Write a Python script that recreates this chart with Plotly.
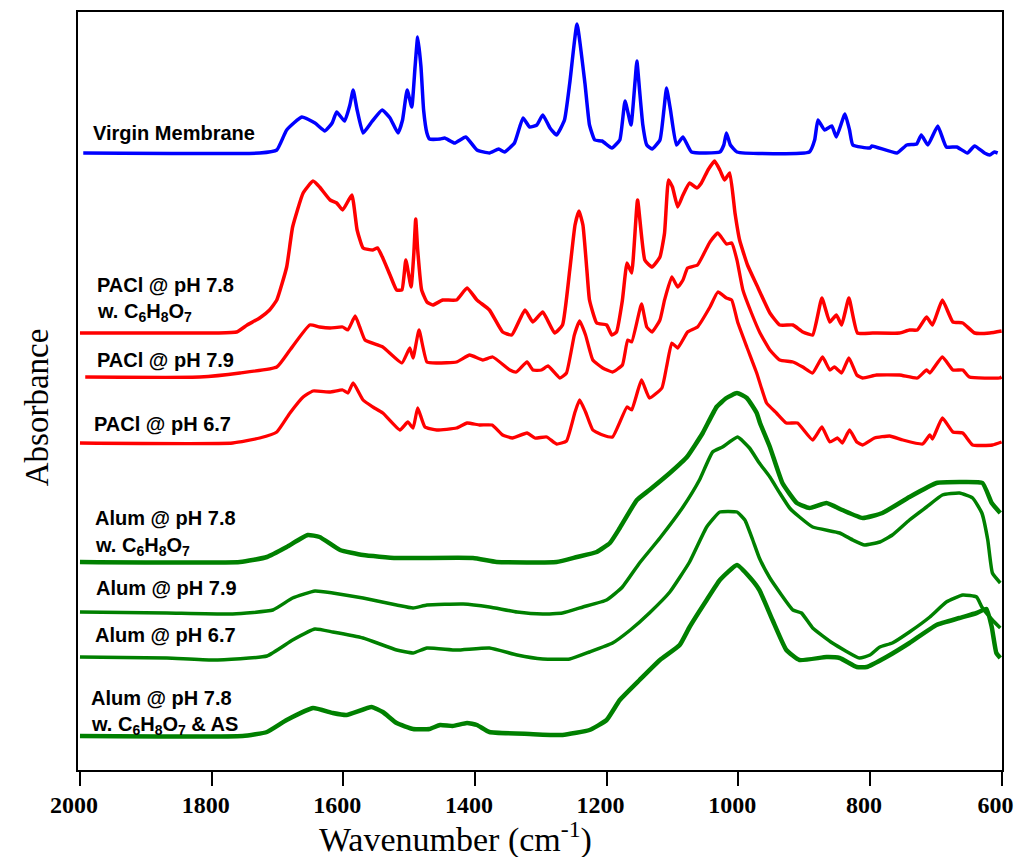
import plotly.graph_objects as go

# ---------------- data (wavenumber in cm^-1, absorbance in offset units) ----------------
virgin_w = [1995, 1727, 1701, 1686, 1663, 1643, 1628, 1617, 1610, 1598, 1590, 1585, 1579, 1570,
            1557, 1541, 1529, 1517, 1510, 1503, 1496, 1491, 1487, 1482, 1478, 1473, 1469, 1453,
            1446, 1431, 1414, 1397, 1378, 1364, 1355, 1340, 1327, 1317, 1306, 1297, 1286, 1276,
            1264, 1256, 1245, 1233, 1226, 1218, 1207, 1192, 1180, 1172, 1163, 1157, 1154, 1150,
            1145, 1139, 1131, 1119, 1113, 1109, 1103, 1094, 1084, 1071, 1028, 1022, 1018, 1012,
            1002, 892, 884, 879, 869, 858, 851, 838, 831, 826, 800, 797, 759, 744, 729, 722, 712,
            697, 684, 668, 652, 641, 626, 618, 611, 606]
virgin_a = [6.17, 6.17, 6.20, 6.40, 6.53, 6.47, 6.39, 6.47, 6.58, 6.49, 6.65, 6.80, 6.60, 6.37,
            6.48, 6.60, 6.52, 6.37, 6.50, 6.80, 6.63, 7.03, 7.33, 7.03, 6.60, 6.37, 6.31, 6.31,
            6.32, 6.27, 6.33, 6.20, 6.17, 6.21, 6.18, 6.27, 6.52, 6.43, 6.45, 6.55, 6.42, 6.35,
            6.50, 6.87, 7.46, 6.87, 6.45, 6.30, 6.29, 6.22, 6.30, 6.69, 6.45, 6.87, 7.09, 6.80,
            6.45, 6.25, 6.21, 6.30, 6.60, 6.82, 6.60, 6.25, 6.33, 6.18, 6.18, 6.25, 6.37, 6.25,
            6.18, 6.18, 6.30, 6.50, 6.40, 6.44, 6.33, 6.56, 6.40, 6.25, 6.22, 6.24, 6.17, 6.25,
            6.26, 6.35, 6.25, 6.44, 6.23, 6.23, 6.17, 6.24, 6.17, 6.15, 6.18, 6.17]

pacl78c_w = [2000, 1792, 1762, 1746, 1727, 1712, 1701, 1686, 1677, 1661, 1646, 1636, 1620, 1610,
             1601, 1587, 1579, 1570, 1555, 1548, 1540, 1529, 1519, 1511, 1505, 1497, 1493, 1490,
             1487, 1481, 1473, 1464, 1449, 1428, 1412, 1397, 1378, 1358, 1344, 1324, 1312, 1297,
             1279, 1267, 1256, 1248, 1242, 1236, 1230, 1226, 1215, 1200, 1192, 1185, 1176, 1169,
             1162, 1153, 1142, 1131, 1119, 1112, 1106, 1100, 1092, 1084, 1074, 1063, 1056, 1046,
             1036, 1028, 1021, 1013, 1005, 998, 986, 972, 952, 937, 917, 902, 887, 873, 861, 851,
             843, 832, 819, 796, 755, 740, 728, 714, 705, 690, 674, 659, 641, 618, 600]
pacl78c_a = [4.37, 4.37, 4.38, 4.45, 4.52, 4.60, 4.70, 5.03, 5.43, 5.77, 5.89, 5.83, 5.70, 5.67,
             5.60, 5.75, 5.40, 5.22, 5.20, 5.22, 5.12, 4.95, 4.80, 4.80, 5.10, 4.83, 5.15, 5.51,
             5.20, 4.80, 4.68, 4.65, 4.70, 4.70, 4.82, 4.70, 4.60, 4.38, 4.35, 4.60, 4.48, 4.58,
             4.37, 4.45, 5.00, 5.45, 5.59, 5.45, 5.00, 4.70, 4.47, 4.45, 4.35, 4.38, 4.70, 5.07,
             4.97, 5.70, 5.10, 5.03, 5.13, 5.37, 5.90, 5.83, 5.63, 5.75, 5.87, 5.82, 5.87, 6.00,
             6.09, 6.00, 5.90, 5.97, 5.57, 5.30, 5.05, 4.85, 4.57, 4.45, 4.45, 4.38, 4.35, 4.72,
             4.48, 4.55, 4.45, 4.72, 4.37, 4.37, 4.37, 4.40, 4.40, 4.53, 4.45, 4.70, 4.48, 4.47,
             4.37, 4.37, 4.39]

pacl79_w = [1992, 1818, 1757, 1701, 1681, 1651, 1636, 1620, 1601, 1593, 1582, 1575, 1567, 1540,
            1511, 1499, 1494, 1485, 1473, 1458, 1428, 1408, 1388, 1373, 1347, 1337, 1321, 1312,
            1299, 1289, 1271, 1261, 1249, 1241, 1232, 1221, 1206, 1191, 1176, 1168, 1162, 1147,
            1139, 1131, 1119, 1112, 1101, 1092, 1084, 1077, 1062, 1043, 1031, 1018, 1010, 1002,
            993, 980, 967, 952, 937, 917, 902, 887, 872, 861, 854, 843, 832, 820, 811, 790, 755,
            728, 714, 709, 690, 674, 659, 649, 603, 600]
pacl79_a = [3.93, 3.93, 3.97, 4.03, 4.20, 4.45, 4.43, 4.42, 4.43, 4.40, 4.54, 4.43, 4.30, 4.23,
            4.07, 4.22, 4.12, 4.40, 4.08, 4.07, 4.08, 4.15, 4.10, 4.13, 4.00, 3.98, 4.08, 4.00,
            4.00, 4.04, 3.92, 3.97, 4.35, 4.49, 4.35, 4.10, 4.02, 3.98, 4.05, 4.30, 4.28, 4.66,
            4.43, 4.38, 4.50, 4.70, 4.93, 4.83, 4.90, 5.02, 5.05, 5.28, 5.37, 5.26, 5.27, 5.10,
            4.80, 4.57, 4.37, 4.20, 4.10, 4.08, 4.03, 3.97, 4.13, 4.00, 4.03, 3.97, 4.12, 3.95,
            3.92, 3.95, 3.95, 3.92, 4.00, 3.97, 4.13, 4.00, 4.00, 3.93, 3.92, 3.93]

pacl67_w = [2000, 1768, 1727, 1701, 1681, 1661, 1646, 1620, 1601, 1593, 1585, 1570, 1555, 1540,
            1514, 1502, 1494, 1487, 1476, 1458, 1428, 1412, 1393, 1374, 1358, 1343, 1321, 1309,
            1291, 1276, 1261, 1248, 1241, 1232, 1221, 1206, 1191, 1169, 1162, 1147, 1135, 1116,
            1109, 1101, 1092, 1077, 1062, 1043, 1031, 1018, 1010, 1001, 987, 972, 957, 942, 927,
            910, 887, 873, 861, 849, 842, 831, 820, 811, 793, 770, 750, 720, 709, 705, 690, 674,
            659, 644, 614, 600]
pacl67_a = [3.27, 3.27, 3.32, 3.38, 3.57, 3.73, 3.79, 3.78, 3.80, 3.77, 3.87, 3.70, 3.63, 3.57,
            3.40, 3.48, 3.42, 3.62, 3.43, 3.40, 3.42, 3.47, 3.45, 3.45, 3.35, 3.32, 3.37, 3.32,
            3.33, 3.26, 3.29, 3.58, 3.70, 3.58, 3.40, 3.35, 3.33, 3.63, 3.60, 3.90, 3.72, 3.82,
            4.03, 4.27, 4.22, 4.38, 4.43, 4.63, 4.78, 4.72, 4.70, 4.48, 4.23, 3.97, 3.67, 3.57,
            3.47, 3.47, 3.30, 3.43, 3.28, 3.32, 3.27, 3.40, 3.28, 3.25, 3.32, 3.34, 3.30, 3.26,
            3.35, 3.31, 3.52, 3.38, 3.37, 3.25, 3.25, 3.28]

alum78c_w = [2000, 1757, 1716, 1686, 1654, 1636, 1605, 1570, 1519, 1403, 1367, 1276, 1245, 1215,
             1195, 1180, 1154, 1135, 1104, 1078, 1054, 1033, 1018, 1002, 987, 972, 967, 952, 933,
             911, 892, 866, 842, 811, 781, 740, 699, 664, 629, 615, 602]
alum78c_a = [2.08, 2.08, 2.13, 2.23, 2.35, 2.33, 2.20, 2.15, 2.12, 2.12, 2.08, 2.08, 2.13, 2.18,
             2.27, 2.42, 2.70, 2.80, 2.97, 3.13, 3.37, 3.63, 3.72, 3.77, 3.72, 3.57, 3.47, 3.23,
             2.87, 2.67, 2.62, 2.67, 2.60, 2.52, 2.57, 2.73, 2.87, 2.88, 2.87, 2.67, 2.57]

alum79_w = [2000, 1868, 1768, 1707, 1677, 1643, 1616, 1570, 1519, 1494, 1473, 1418, 1378, 1336,
            1297, 1267, 1236, 1200, 1176, 1150, 1119, 1084, 1059, 1039, 1024, 1001, 983, 968, 952,
            937, 922, 907, 887, 846, 826, 808, 785, 766, 740, 714, 690, 664, 644, 630, 621, 614, 602]
alum79_a = [1.58, 1.57, 1.56, 1.60, 1.72, 1.79, 1.77, 1.72, 1.65, 1.62, 1.65, 1.66, 1.63, 1.58,
            1.56, 1.57, 1.63, 1.70, 1.83, 2.07, 2.32, 2.63, 2.90, 3.18, 3.23, 3.33, 3.22, 3.07, 2.93,
            2.77, 2.62, 2.53, 2.43, 2.37, 2.30, 2.25, 2.28, 2.35, 2.50, 2.63, 2.75, 2.77, 2.72,
            2.57, 2.30, 1.97, 1.87]

alum67_w = [2000, 1868, 1798, 1716, 1677, 1643, 1616, 1570, 1519, 1494, 1473, 1428, 1378, 1336,
            1297, 1256, 1226, 1191, 1164, 1135, 1104, 1074, 1048, 1028, 1002, 990, 978, 968, 952,
            917, 904, 887, 857, 816, 800, 785, 766, 740, 709, 684, 659, 638, 630, 614, 602]
alum67_a = [1.13, 1.12, 1.10, 1.14, 1.30, 1.41, 1.38, 1.32, 1.20, 1.17, 1.22, 1.20, 1.22, 1.15,
            1.11, 1.11, 1.18, 1.27, 1.40, 1.57, 1.78, 2.08, 2.43, 2.58, 2.58, 2.50, 2.30, 2.12,
            1.92, 1.60, 1.57, 1.42, 1.27, 1.12, 1.15, 1.23, 1.27, 1.38, 1.53, 1.68, 1.75, 1.73,
            1.63, 1.50, 1.42]

alumas_w = [2000, 1753, 1716, 1686, 1646, 1616, 1595, 1557, 1540, 1519, 1494, 1469, 1453, 1434,
            1412, 1397, 1378, 1317, 1267, 1226, 1200, 1180, 1150, 1119, 1089, 1074, 1048, 1028,
            1002, 983, 968, 948, 927, 907, 866, 846, 820, 805, 775, 740, 699, 664, 638, 623, 615,
            608, 602]
alumas_a = [0.34, 0.34, 0.38, 0.50, 0.62, 0.57, 0.55, 0.63, 0.58, 0.47, 0.41, 0.41, 0.45, 0.44,
            0.47, 0.45, 0.38, 0.36, 0.35, 0.40, 0.50, 0.70, 0.90, 1.10, 1.25, 1.43, 1.70, 1.90,
            2.05, 1.93, 1.80, 1.50, 1.20, 1.10, 1.13, 1.12, 1.03, 1.03, 1.13, 1.27, 1.45, 1.52,
            1.57, 1.61, 1.43, 1.17, 1.12]

x_ticks = [2000, 1800, 1600, 1400, 1200, 1000, 800, 600]

series = [
    ("Virgin Membrane", virgin_w, virgin_a, "#0000FF", 3.5),
    ("PACl @ pH 7.8 w. C6H8O7", pacl78c_w, pacl78c_a, "#FF0000", 3.5),
    ("PACl @ pH 7.9", pacl79_w, pacl79_a, "#FF0000", 3.3),
    ("PACl @ pH 6.7", pacl67_w, pacl67_a, "#FF0000", 3.3),
    ("Alum @ pH 7.8 w. C6H8O7", alum78c_w, alum78c_a, "#008000", 4.5),
    ("Alum @ pH 7.9", alum79_w, alum79_a, "#008000", 3.5),
    ("Alum @ pH 6.7", alum67_w, alum67_a, "#008000", 3.5),
    ("Alum @ pH 7.8 w. C6H8O7 & AS", alumas_w, alumas_a, "#008000", 4.5),
]

labels = [
    ("Virgin Membrane", 1983, 6.37),
    ("PACl @ pH 7.8", 1977, 4.85),
    ("w. C<sub>6</sub>H<sub>8</sub>O<sub>7</sub>", 1977, 4.58),
    ("PACl @ pH 7.9", 1977, 4.10),
    ("PACl @ pH 6.7", 1982, 3.46),
    ("Alum @ pH 7.8", 1980, 2.52),
    ("w. C<sub>6</sub>H<sub>8</sub>O<sub>7</sub>", 1980, 2.24),
    ("Alum @ pH 7.9", 1979, 1.82),
    ("Alum @ pH 6.7", 1980, 1.35),
    ("Alum @ pH 7.8", 1986, 0.72),
    ("w. C<sub>6</sub>H<sub>8</sub>O<sub>7</sub> &amp; AS", 1986, 0.45),
]

SERIF = "Liberation Serif, Times New Roman, Times, serif"

fig = go.Figure()
for name, w, a, color, lw in series:
    fig.add_trace(go.Scatter(x=w, y=a, mode="lines", name=name,
                             line=dict(color=color, width=lw, shape="spline", smoothing=0.4)))

for text, x, y in labels:
    fig.add_annotation(x=x, y=y, xref="x", yref="y", text=text, showarrow=False,
                       xanchor="left", yanchor="middle",
                       font=dict(family="Liberation Sans, Arial, sans-serif", size=20,
                                 color="black", weight="bold"))

# axis titles as paper annotations for precise placement
fig.add_annotation(x=0.409, y=-0.089, xref="paper", yref="paper",
                   text="Wavenumber (cm<sup>-1</sup>)", showarrow=False,
                   xanchor="center", yanchor="middle",
                   font=dict(family=SERIF, size=34, color="black"))
fig.add_annotation(x=-0.044, y=0.479, xref="paper", yref="paper",
                   text="Absorbance", showarrow=False, textangle=-90,
                   xanchor="center", yanchor="middle",
                   font=dict(family=SERIF, size=33, color="black"))

fig.update_layout(
    width=1016, height=857,
    margin=dict(l=78, r=14, t=12, b=87, autoexpand=False),
    paper_bgcolor="white", plot_bgcolor="white",
    showlegend=False,
)
fig.update_xaxes(
    range=[2003, 599.4], tickvals=x_ticks, ticktext=["<b>%d</b>" % t for t in x_ticks],
    ticks="outside", ticklen=14, tickwidth=2, tickcolor="black",
    showline=True, linecolor="black", linewidth=2, mirror=True,
    showgrid=False, zeroline=False, automargin=False,
    tickfont=dict(family=SERIF, size=24, color="black"),
    ticklabelshift=6, ticklabelstandoff=-2, ticklabeloverflow="allow",
)
fig.update_yaxes(
    range=[0, 7.58], showticklabels=False, ticks="",
    showline=True, linecolor="black", linewidth=2, mirror=True,
    showgrid=False, zeroline=False, automargin=False,
)

fig.write_html("out.html")
